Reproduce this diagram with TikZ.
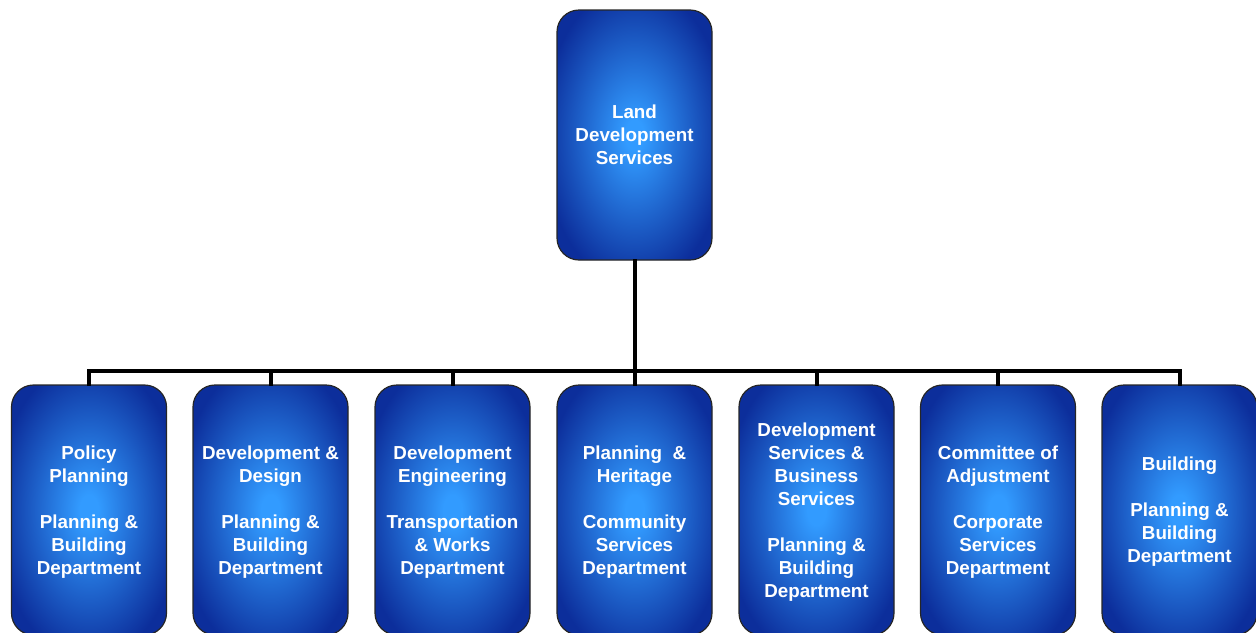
\documentclass[tikz,border=0pt]{standalone}
\usepackage{fontspec}
\setmainfont{Liberation Sans}
\definecolor{boxlight}{RGB}{50,155,255}
\definecolor{boxdark}{RGB}{12,46,155}
%% glow from the middle of each box to its dark rim
\pgfdeclareradialshading{boxglow}{\pgfpoint{0bp}{0bp}}{%
  color(0bp)=(boxlight); color(3bp)=(boxlight);
  color(30bp)=(boxdark); color(50bp)=(boxdark)}
\tikzset{
  unit/.style={draw=black!85, line width=0.6pt, rounded corners=11pt,
    minimum width=77.5pt, minimum height=125pt, inner sep=0pt,
    shading=boxglow,
    text=white, align=center, text depth=-1pt,
    font=\fontsize{9.4pt}{11.5pt}\selectfont\bfseries},
  conn/.style={line width=2pt, line cap=rect}
}
\begin{document}
\begin{tikzpicture}[x=0.5pt, y=-0.5pt]
  \clip (0,0) rectangle (1256,632);

  %% --- top: the department ---
  \node[unit] (land) at (634.5,135) {Land\\Development\\Services};

  %% --- bottom row: the seven sections ---
  \node[unit] (policy)   at (89,510)
    {Policy\\Planning\\[11.5pt]Planning \&\\Building\\Department};
  \node[unit] (design)   at (270.5,510)
    {Development \&\\Design\\[11.5pt]Planning \&\\Building\\Department};
  \node[unit] (engineer) at (452.5,510)
    {Development\\Engineering\\[11.5pt]Transportation\\\& Works\\Department};
  \node[unit] (heritage) at (634.5,510)
    {Planning \ \&\\Heritage\\[11.5pt]Community\\Services\\Department};
  \node[unit] (business) at (816.5,510)
    {Development\\Services \&\\Business\\Services\\[11.5pt]Planning \&\\Building\\Department};
  \node[unit] (adjust)   at (998,510)
    {Committee of\\Adjustment\\[11.5pt]Corporate\\Services\\Department};
  \node[unit] (building) at (1179.5,510)
    {Building\\[11.5pt]Planning \&\\Building\\Department};

  %% connectors: down from the top box, along the bus, down into each box
  \draw[conn] (land.south) -- ++(0,110) -| (policy.north)
              (land.south) ++(0,110) -| (design.north)
              (land.south) ++(0,110) -| (engineer.north)
              (land.south) -- (heritage.north)
              (land.south) ++(0,110) -| (business.north)
              (land.south) ++(0,110) -| (adjust.north)
              (land.south) ++(0,110) -| (building.north);
\end{tikzpicture}
\end{document}
